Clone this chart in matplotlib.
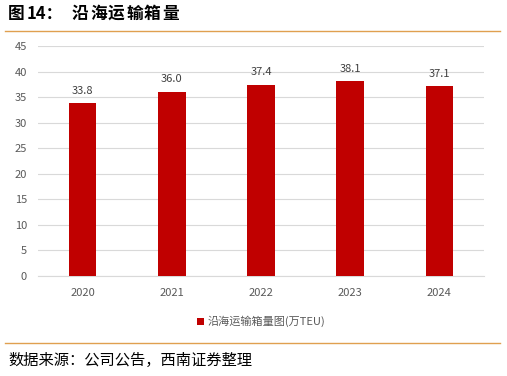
import matplotlib
matplotlib.use("Agg")
import matplotlib.pyplot as plt
from matplotlib.lines import Line2D

plt.rcParams['font.family'] = ['Noto Sans CJK SC', 'DejaVu Sans']

years = ["2020", "2021", "2022", "2023", "2024"]
volume = [33.8, 36.0, 37.4, 38.1, 37.1]
yticks = list(range(0, 50, 5))

fig = plt.figure(figsize=(5.07, 3.76), dpi=100)
fig.patch.set_facecolor("white")

ax = fig.add_axes([38 / 507, 1 - 276 / 376, 446 / 507, 230 / 376])
bars = ax.bar(range(len(years)), volume, width=0.31, color="#c00000",
              label="沿海运输箱量图(万TEU)", zorder=3)
for i, v in enumerate(volume):
    ax.text(i, v + 1.5, f"{v:.1f}", ha="center", va="bottom",
            fontsize=8, color="#404040")

ax.set_xlim(-0.5, len(years) - 0.5)
ax.set_ylim(0, 45)
ax.set_yticks(yticks)
ax.set_xticks(range(len(years)))
ax.set_xticklabels(years)
ax.tick_params(axis="both", length=0, labelsize=8, colors="#595959")
ax.tick_params(axis="y", pad=8)
ax.tick_params(axis="x", pad=9)
ax.grid(axis="y", color="#d9d9d9", linewidth=0.8, zorder=0)
for s in ax.spines.values():
    s.set_visible(False)
ax.spines["bottom"].set_visible(True)
ax.spines["bottom"].set_color("#d9d9d9")

leg = ax.legend(loc="upper center", bbox_to_anchor=(0.5, -0.13), frameon=False,
                fontsize=8, handlelength=0.6, handleheight=0.6, handletextpad=0.3)
for t in leg.get_texts():
    t.set_color("#595959")

# title with wide character spacing like the original
title_chars = ["图", "14：", "沿", "海", "运", "输", "箱", "量"]
title_x = [8, 27, 72, 90, 108, 126, 144, 162]
for ch, x in zip(title_chars, title_x):
    fig.text(x / 507, 1 - 14 / 376, ch, fontsize=12, fontweight="bold",
             ha="left", va="center", color="#000000")
fig.add_artist(Line2D([5 / 507, 500 / 507], [1 - 31 / 376, 1 - 31 / 376],
                      color="#e0a050", linewidth=1.0))
fig.add_artist(Line2D([5 / 507, 500 / 507], [1 - 343 / 376, 1 - 343 / 376],
                      color="#e0a050", linewidth=1.0))
fig.text(8 / 507, 1 - 360 / 376, "数据来源：公司公告，西南证券整理", fontsize=11,
         ha="left", va="center", color="#000000", style="italic")

fig.savefig("out.png", dpi=100)
